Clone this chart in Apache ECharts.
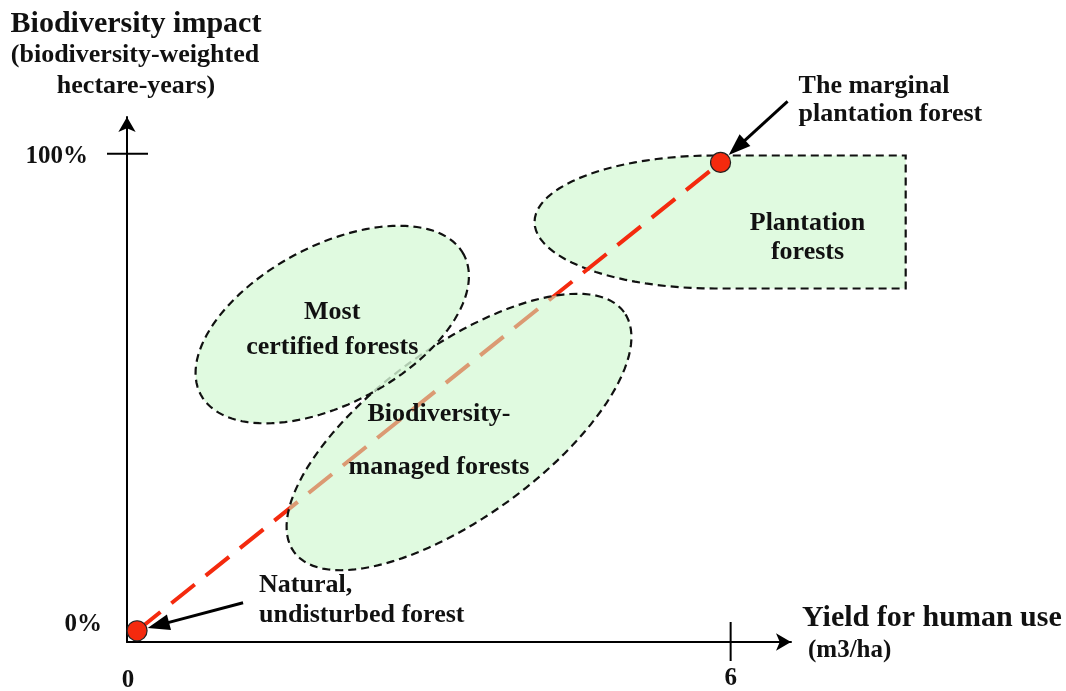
<!DOCTYPE html>
<html>
<head>
<meta charset="utf-8">
<script src="https://cdn.jsdelivr.net/npm/echarts@6/dist/echarts.min.js"></script>
<style>
    html, body { margin: 0; padding: 0; background: #fff; }
    #main { width: 1066px; height: 691px; }
</style>
</head>
<body>
<div id="main"></div>
<script>
// axis extents (data units)
const xMax = 6.6;
const yMax = 107.5;
const xTicks = [0, 6];
const xTickLabels = ['0', '6'];
const yTicks = [0, 100];
const yTickLabels = ['0%', '100%'];

// natural forest -> marginal plantation forest
const pathX = [0.1, 5.9];
const pathY = [2.3, 98.2];
const pointLabels = ['Natural,\nundisturbed forest', 'The marginal\nplantation forest'];

// forest regions (centres in data units)
const regionNames = ['Plantation\nforests', 'Most\ncertified forests', 'Biodiversity-\nmanaged forests'];
const regionX = [5.84, 2.04, 3.30];
const regionY = [86.0, 65.0, 43.0];
const plantationEndX = 7.74;

const FONT = '"Liberation Serif", "Times New Roman", serif';
const RED = '#f42a0e';

// sizes in px, rotation in degrees
const regionStyle = [
    { rx: 180, ry: 66.5, rot: 0, half: true, fill: '#e0fae0', z: 1, labelDx: 93, labelDy: 16, lineHeight: 29 },
    { rx: 149, ry: 79, rot: 28, fill: 'rgba(216,249,216,0.8)', z: 4, labelDx: 0, labelDy: 5, lineHeight: 35 },
    { rx: 204, ry: 85, rot: 36, fill: 'rgba(198,246,198,0.55)', z: 3, labelDx: -20, labelDy: 9, lineHeight: 53 }
];
const calloutStyle = [
    { tailDx: 106, tailDy: -28, textDx: 122, textDy: -45, lineHeight: 30 },
    { tailDx: 67, tailDy: -61, textDx: 78, textDy: -76, lineHeight: 28 }
];
const xTickLabelOffset = [[1, 39], [0, 37]];
const yTickLabelOffset = [[-25, -17], [-39, 3]];

function txt(text, x, y, size, align, vAlign, lineHeight) {
    return {
        type: 'text',
        z2: 50,
        style: {
            text: text, x: x, y: y,
            fill: '#111',
            font: 'bold ' + size + 'px ' + FONT,
            lineHeight: lineHeight || size * 1.15,
            align: align, textAlign: align,
            verticalAlign: vAlign, textVerticalAlign: vAlign
        }
    };
}

function regionRender(params, api) {
    const i = api.value(2);
    const s = regionStyle[i];
    const c = api.coord([api.value(0), api.value(1)]);
    const a = s.rot * Math.PI / 180;
    const pts = [];
    if (s.half) {
        for (let k = 0; k <= 48; k++) {
            const t = Math.PI / 2 + Math.PI * k / 48;   //上 -> 左 -> 下
            pts.push([c[0] + s.rx * Math.cos(t), c[1] - s.ry * Math.sin(t)]);
        }
        const xe = api.coord([plantationEndX, api.value(1)])[0];
        pts.push([xe, c[1] + s.ry], [xe, c[1] - s.ry]);
    } else {
        for (let k = 0; k < 120; k++) {
            const t = 2 * Math.PI * k / 120;
            const ex = s.rx * Math.cos(t), ey = s.ry * Math.sin(t);
            pts.push([
                c[0] + ex * Math.cos(a) - ey * Math.sin(a),
                c[1] - (ex * Math.sin(a) + ey * Math.cos(a))
            ]);
        }
    }
    const lines = regionNames[i].split('\n').length;
    const top = c[1] + s.labelDy - s.lineHeight * lines / 2;
    return {
        type: 'group',
        children: [
            {
                type: 'polygon',
                shape: { points: pts },
                style: { fill: s.fill, stroke: '#111', lineWidth: 2.2, lineDash: [8, 5] }
            },
            txt(regionNames[i], c[0] + s.labelDx, top, 26, 'center', 'top', s.lineHeight)
        ]
    };
}

function regionSeries(i) {
    return {
        type: 'custom',
        z: regionStyle[i].z,
        silent: true,
        data: [[regionX[i], regionY[i], i]],
        renderItem: regionRender
    };
}

function calloutRender(params, api) {
    const i = params.dataIndex;
    const s = calloutStyle[i];
    const c = api.coord([api.value(0), api.value(1)]);
    const len = Math.sqrt(s.tailDx * s.tailDx + s.tailDy * s.tailDy);
    const ux = s.tailDx / len, uy = s.tailDy / len;
    const tip = [c[0] + ux * 11, c[1] + uy * 11];
    const base = [tip[0] + ux * 22, tip[1] + uy * 22];
    const nx = -uy, ny = ux;
    return {
        type: 'group',
        children: [
            {
                type: 'line',
                shape: { x1: c[0] + s.tailDx, y1: c[1] + s.tailDy, x2: base[0] - ux * 2, y2: base[1] - uy * 2 },
                style: { stroke: '#000', lineWidth: 3 }
            },
            {
                type: 'polygon',
                shape: { points: [tip, [base[0] + nx * 8, base[1] + ny * 8], [base[0] - nx * 8, base[1] - ny * 8]] },
                style: { fill: '#000' }
            },
            txt(pointLabels[i], c[0] + s.textDx, c[1] + s.textDy - s.lineHeight / 2, 26, 'left', 'top', s.lineHeight)
        ]
    };
}

function xTickRender(params, api) {
    const i = params.dataIndex;
    const p = api.coord([api.value(0), 0]);
    const children = [];
    if (api.value(0) !== 0) {
        children.push({ type: 'line', shape: { x1: p[0], y1: p[1] - 20, x2: p[0], y2: p[1] + 19 }, style: { stroke: '#000', lineWidth: 2 } });
    }
    children.push(txt(xTickLabels[i], p[0] + xTickLabelOffset[i][0], p[1] + xTickLabelOffset[i][1], 25, 'center', 'middle'));
    return { type: 'group', children: children };
}

function yTickRender(params, api) {
    const i = params.dataIndex;
    const v = api.value(1);
    const p = api.coord([0, v]);
    const children = [];
    if (v !== 0) {
        children.push({ type: 'line', shape: { x1: p[0] - 20, y1: p[1], x2: p[0] + 21, y2: p[1] }, style: { stroke: '#000', lineWidth: 2 } });
    }
    children.push(txt(yTickLabels[i], p[0] + yTickLabelOffset[i][0], p[1] + yTickLabelOffset[i][1], 25, 'right', 'middle'));
    return { type: 'group', children: children };
}

const pathData = pathX.map((x, i) => [x, pathY[i]]);

const axisBase = {
    type: 'value',
    min: 0,
    axisLine: {
        show: true,
        onZero: false,
        symbol: ['none', 'arrow'],
        symbolSize: [13, 15],
        lineStyle: { color: '#000', width: 2 }
    },
    axisTick: { show: false },
    axisLabel: { show: false },
    splitLine: { show: false }
};

const myChart = echarts.init(document.getElementById('main'));
const option = {
    animation: false,
    backgroundColor: '#fff',
    grid: { left: 127, top: 117, width: 664, height: 525 },
    xAxis: Object.assign({}, axisBase, { max: xMax }),
    yAxis: Object.assign({}, axisBase, { max: yMax }),
    graphic: [
        txt('Biodiversity impact', 136, 24, 30, 'center', 'middle'),
        txt('(biodiversity-weighted', 135, 55, 26, 'center', 'middle'),
        txt('hectare-years)', 136, 86, 26, 'center', 'middle'),
        txt('Yield for human use', 802, 618, 30, 'left', 'middle'),
        txt('(m3/ha)', 808, 651, 25, 'left', 'middle')
    ],
    series: [
        regionSeries(0),
        {
            type: 'line',
            z: 2,
            silent: true,
            data: pathData,
            symbol: 'none',
            lineStyle: { color: RED, width: 4, type: [30, 14] }
        },
        regionSeries(2),
        regionSeries(1),
        {
            type: 'scatter',
            z: 5,
            silent: true,
            data: pathData,
            symbolSize: 20,
            itemStyle: { color: RED, borderColor: '#222', borderWidth: 1.2, opacity: 1 }
        },
        {
            type: 'custom',
            z: 6,
            silent: true,
            data: pathData,
            renderItem: calloutRender
        },
        {
            type: 'custom',
            z: 6,
            silent: true,
            data: xTicks.map(v => [v, 0]),
            renderItem: xTickRender
        },
        {
            type: 'custom',
            z: 6,
            silent: true,
            data: yTicks.map(v => [0, v]),
            renderItem: yTickRender
        }
    ]
};
myChart.setOption(option);
</script>
</body>
</html>
